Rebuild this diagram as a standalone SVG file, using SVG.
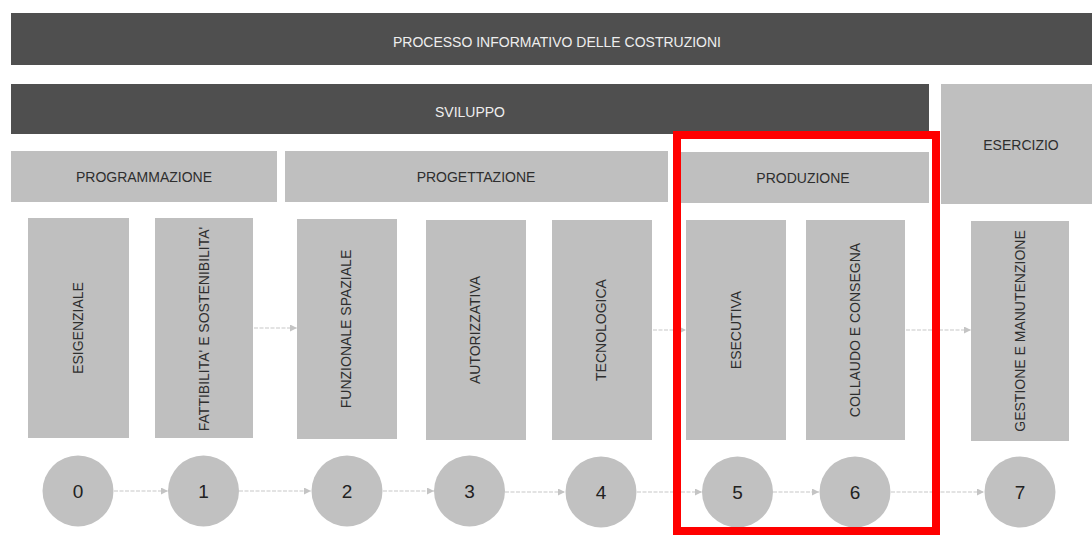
<svg xmlns="http://www.w3.org/2000/svg" width="1092" height="536" viewBox="0 0 1092 536">
<defs>
<style>
.dark{fill:#4f4f4f}
.light{fill:#bfbfbf}
.circ{fill:#c1c1c1}
.tw{font-family:"Liberation Sans",Arial,sans-serif;font-size:14px;fill:#eeeeee;text-anchor:middle}
.tb{font-family:"Liberation Sans",Arial,sans-serif;font-size:14px;fill:#2e2e2e;text-anchor:middle}
.num{font-family:"Liberation Sans",Arial,sans-serif;font-size:19px;fill:#222;text-anchor:middle}
.conn{stroke:#c8c8c8;stroke-width:1.2;fill:none;stroke-dasharray:4 1.5;marker-end:url(#ah)}
</style>
<marker id="ah" viewBox="0 0 8 8" refX="8" refY="4" markerWidth="7" markerHeight="7" markerUnits="userSpaceOnUse" orient="auto">
<path d="M0,0 L8,4 L0,8 Z" fill="#c4c4c4"/>
</marker>
</defs>
<rect width="1092" height="536" fill="#ffffff"/>

<g id="processo">
<rect class="dark" x="11" y="13" width="1081" height="52"/>
<text class="tw" x="557" y="47">PROCESSO INFORMATIVO DELLE COSTRUZIONI</text>
</g>
<g id="sviluppo">
<rect class="dark" x="11" y="84" width="918" height="50"/>
<text class="tw" x="470" y="117">SVILUPPO</text>
</g>
<g id="esercizio">
<rect class="light" x="941" y="84" width="151" height="120"/>
<text class="tb" x="1021" y="150">ESERCIZIO</text>
</g>
<g id="programmazione">
<rect class="light" x="11" y="151" width="266" height="51"/>
<text class="tb" x="144" y="182">PROGRAMMAZIONE</text>
</g>
<g id="progettazione">
<rect class="light" x="285" y="151" width="383" height="51"/>
<text class="tb" x="476" y="182">PROGETTAZIONE</text>
</g>
<g id="produzione">
<rect class="light" x="680" y="152" width="249" height="51"/>
<text class="tb" x="803" y="183">PRODUZIONE</text>
</g>

<g id="fase0">
<rect class="light" x="28" y="218" width="101" height="220"/>
<text class="tb" transform="translate(83,328) rotate(-90)">ESIGENZIALE</text>
</g>
<g id="fase1">
<rect class="light" x="155" y="218" width="98" height="220"/>
<text class="tb" transform="translate(209,329) rotate(-90)">FATTIBILITA' E SOSTENIBILITA'</text>
</g>
<g id="fase2">
<rect class="light" x="297" y="219" width="100" height="220"/>
<text class="tb" transform="translate(351,329) rotate(-90)">FUNZIONALE SPAZIALE</text>
</g>
<g id="fase3">
<rect class="light" x="426" y="220" width="100" height="220"/>
<text class="tb" transform="translate(480,330) rotate(-90)">AUTORIZZATIVA</text>
</g>
<g id="fase4">
<rect class="light" x="552" y="220" width="100" height="220"/>
<text class="tb" transform="translate(606,330) rotate(-90)">TECNOLOGICA</text>
</g>
<g id="fase5">
<rect class="light" x="686" y="220" width="100" height="220"/>
<text class="tb" transform="translate(741,330) rotate(-90)">ESECUTIVA</text>
</g>
<g id="fase6">
<rect class="light" x="806" y="220" width="99" height="220"/>
<text class="tb" transform="translate(860,330) rotate(-90)">COLLAUDO E CONSEGNA</text>
</g>
<g id="fase7">
<rect class="light" x="971" y="221" width="98" height="220"/>
<text class="tb" transform="translate(1025,331) rotate(-90)">GESTIONE E MANUTENZIONE</text>
</g>

<g id="n0"><circle class="circ" cx="78" cy="491" r="35.5"/><text class="num" x="78" y="498">0</text></g>
<g id="n1"><circle class="circ" cx="203.5" cy="491" r="35.5"/><text class="num" x="203.5" y="498">1</text></g>
<g id="n2"><circle class="circ" cx="347" cy="491" r="35.5"/><text class="num" x="347" y="498">2</text></g>
<g id="n3"><circle class="circ" cx="469.5" cy="491" r="35.5"/><text class="num" x="469.5" y="498">3</text></g>
<g id="n4"><circle class="circ" cx="601" cy="492" r="35.5"/><text class="num" x="601" y="499">4</text></g>
<g id="n5"><circle class="circ" cx="737.5" cy="492" r="35.5"/><text class="num" x="737.5" y="499">5</text></g>
<g id="n6"><circle class="circ" cx="855" cy="492" r="35.5"/><text class="num" x="855" y="499">6</text></g>
<g id="n7"><circle class="circ" cx="1020" cy="492" r="35.5"/><text class="num" x="1020" y="499">7</text></g>

<g id="connectors">
<line class="conn" x1="114" y1="491" x2="168" y2="491"/>
<line class="conn" x1="239" y1="491" x2="311" y2="491"/>
<line class="conn" x1="383" y1="491" x2="434" y2="491"/>
<line class="conn" x1="505" y1="492" x2="565" y2="492"/>
<line class="conn" x1="637" y1="492" x2="702" y2="492"/>
<line class="conn" x1="773" y1="492" x2="819" y2="492"/>
<line class="conn" x1="891" y1="492" x2="984" y2="492"/>
<line class="conn" x1="254" y1="328" x2="297" y2="328"/>
<line class="conn" x1="653" y1="330" x2="686" y2="330"/>
<line class="conn" x1="906" y1="330" x2="971" y2="330"/>
</g>

<rect id="evidenza" x="677" y="135" width="259" height="396" fill="none" stroke="#ff0000" stroke-width="8"/>
</svg>
